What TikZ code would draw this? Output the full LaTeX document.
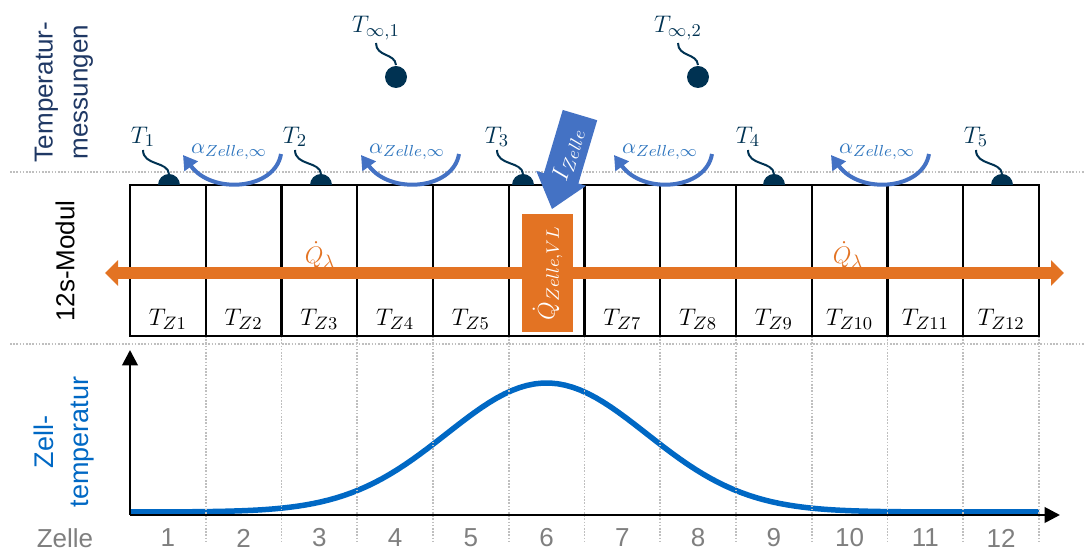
\documentclass[tikz,border=0pt]{standalone}
\usepackage[no-math]{fontspec}
\setsansfont{Liberation Sans}
\usetikzlibrary{arrows.meta}
\definecolor{navy}{RGB}{0,50,82}
\definecolor{tmess}{RGB}{31,56,100}
\definecolor{alphablue}{RGB}{68,114,196}
\definecolor{alphatext}{RGB}{46,117,190}
\definecolor{heat}{RGB}{227,115,35}
\definecolor{curveblue}{RGB}{0,104,196}
\definecolor{zgray}{RGB}{127,127,127}
\definecolor{gridgray}{RGB}{191,191,191}
\begin{document}
\begin{tikzpicture}[x=0.5pt, y=0.5pt,
  cell/.style={draw, line width=1.2pt, minimum width=37.875pt, minimum height=75.5pt, inner sep=0pt},
  mathlbl/.style={font=\fontsize{13}{15}\selectfont},
  sidelbl/.style={font=\sffamily\fontsize{13}{17.5}\selectfont, rotate=90, align=center},
  gridline/.style={gridgray, line width=0.8pt, dash pattern=on 0.8pt off 0.8pt},
  wire/.style={navy, line width=1pt},
  alphaflow/.style={alphablue, line width=2pt, -{Triangle[length=7pt,width=8pt]}},
  qflow/.style={heat, line width=6pt, -{Triangle[length=6.5pt,width=12.5pt]}},
  plotaxis/.style={line width=1.4pt, -{Triangle[length=7.75pt,width=7.75pt]}}]
\useasboundingbox (0,0) rectangle (1084,551);

% dotted separators
\draw[gridline] (10,379) -- (1084,379);
\draw[gridline] (10,207) -- (1084,207);

% side labels
\node[sidelbl, text=tmess] (lblmess) at (64,459) {Temperatur-\\messungen};
\node[sidelbl] (lblmod) at (65,290) {12s-Modul};
\node[sidelbl, text=curveblue, font=\sffamily\fontsize{13.5}{17.5}\selectfont] (lbltemp) at (64,109) {Zell-\\temperatur};
\node[text=zgray, font=\sffamily\fontsize{13}{15}\selectfont] (lblzelle) at (65,13) {Zelle};

% temperature curve
\draw[curveblue, line width=2.75pt] plot[domain=130:1039, samples=120] (\x, {39+129*exp(-0.5*((\x-546.6)/100)^2)});

% cells, numbers, grid
\foreach \i in {1,...,12}
{
	\pgfmathsetmacro\cx{130+75.75*(\i-0.5)}
	\pgfmathsetmacro\bx{130+75.75*\i}
	\draw[gridline] (\bx,215) -- (\bx,8);
	\node[cell] (z\i) at (\cx,290.5) {};
	\node[text=zgray, font=\sffamily\fontsize{13}{15}\selectfont] (n\i) at (\cx,13) {\i};
}

% axes
\coordinate (o) at (130,36);
\coordinate (ytop) at (130,201);
\coordinate (xend) at (1060,36);
\draw[plotaxis] (o) -- (ytop);
\draw[plotaxis] (o) -- (xend);

% heat flow
\coordinate (qlL) at (105,278);
\coordinate (qlR) at (1064,278);
\node[fill=heat, rotate=90, minimum width=59pt, minimum height=25.5pt, inner sep=0pt, text=white, mathlbl] (qvl) at (547.5,278) {$\dot Q_{Zelle,VL}$};
\draw[qflow] (qvl) -- (qlL);
\draw[qflow] (qvl) -- (qlR);
\node[text=heat, mathlbl] (ql1) at (320,296) {$\dot Q_\lambda$};
\node[text=heat, mathlbl] (ql2) at (848,296) {$\dot Q_\lambda$};

% cell temperatures
\foreach \i in {1,...,5,7,8,...,12}
{
	\pgfmathsetmacro\cx{130+75.75*(\i-0.5)}
	\node[mathlbl] (tz\i) at (\cx,232) {$T_{Z\i}$};
}

% sensors on the module
\foreach \sx/\n in {169/1, 321/2, 523/3, 774/4, 1002/5}
{
	\fill[navy] (\sx+11,366) arc (0:180:11) -- cycle;
	\draw[wire] (\sx,377) .. controls (\sx-1,390) and (\sx-26,385) .. (\sx-26,401) node[anchor=south, inner sep=1pt, mathlbl] (t\n) {$T_{\n}$};
}

% ambient sensors
\foreach \sx/\n in {396/1, 698/2}
{
	\fill[navy] (\sx,474) circle (11);
	\draw[wire] (\sx,486) .. controls (\sx-1,498) and (\sx-20,494) .. (\sx-20,508) node[anchor=south, inner sep=1pt, mathlbl] (tinf\n) {$T_{\infty,\n}$};
}

% heat transfer to ambient
\foreach \s in {0,178,431,648}
{
	\draw[alphaflow] (281+\s,397) .. controls (275+\s,361) and (212+\s,356) .. (183+\s,396);
	\node[text=alphatext, font=\fontsize{11}{13}\selectfont] (a\s) at (229+\s,399) {$\alpha_{Zelle,\infty}$};
}

% current
\begin{scope}[shift={(552,342)}, rotate=73.4]
\fill[alphablue] (0,0) -- (32,26) -- (32,18) -- (98,18) -- (98,-18) -- (32,-18) -- (32,-26) -- cycle;
\node[rotate=73.4, text=white, mathlbl] (izelle) at (57,0) {$I_{Zelle}$};
\end{scope}
\end{tikzpicture}
\end{document}
